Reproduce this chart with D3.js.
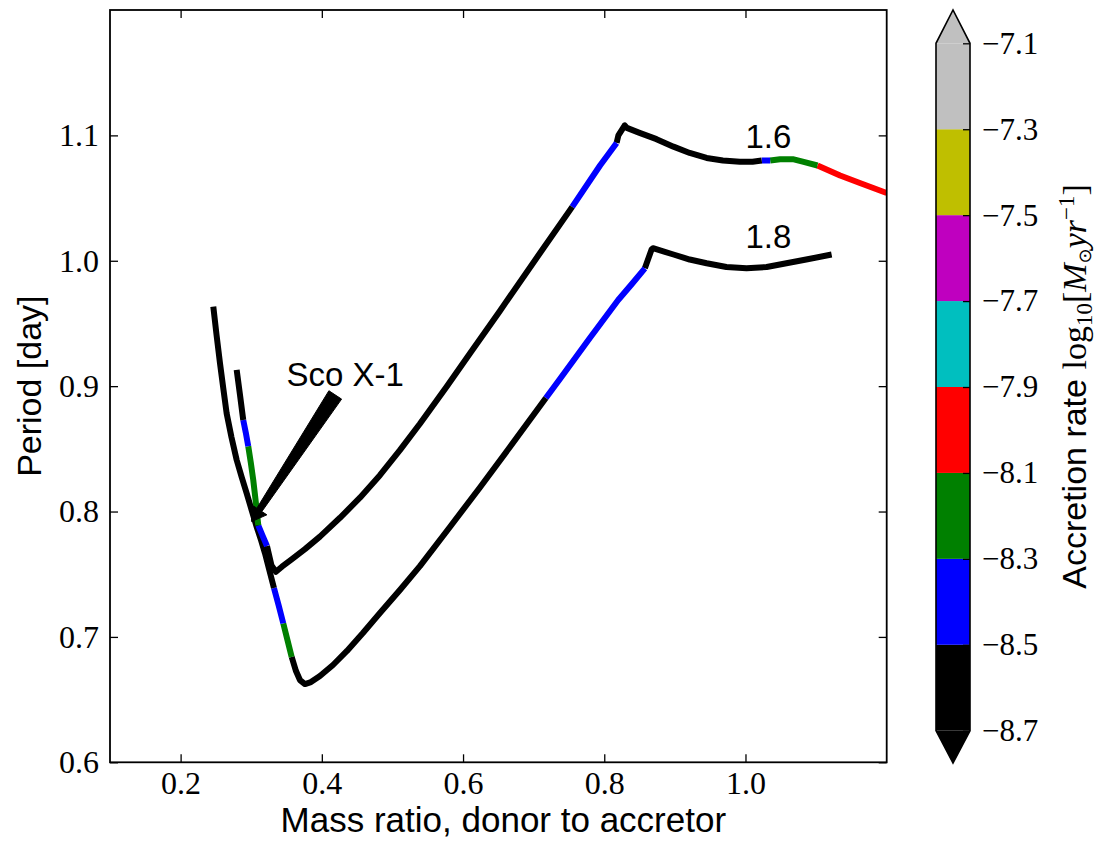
<!DOCTYPE html>
<head>
<meta charset="utf-8">
<script src="https://d3js.org/d3.v7.min.js"></script>
<style>
  body { margin: 0; background: #fff; }
  .tick text { font-family: 'Liberation Serif', serif; font-size: 32px; fill: #000; }
  .tick line { stroke: #000; stroke-width: 1.3; }
  .domain { display: none; }
  .sans { font-family: 'Liberation Sans', Arial, sans-serif; fill: #000; }
</style>
</head>
<body>
<script>
// 1.6 Msun track, from start (right) to end (upper left)
var q16 = [1.200, 1.162, 1.134, 1.102, 1.081, 1.067, 1.049, 1.035, 1.023, 1.010,
           0.992, 0.968, 0.945, 0.921, 0.898, 0.874, 0.850, 0.832, 0.829, 0.820,
           0.8175, 0.794, 0.7546, 0.7088, 0.6522, 0.6097, 0.5772, 0.5389, 0.5106, 0.4823,
           0.4540, 0.4257, 0.3973, 0.3761, 0.3577, 0.3435, 0.3350, 0.3287, 0.3223, 0.3159,
           0.3100, 0.3064, 0.3029, 0.2994, 0.2958, 0.2923, 0.2887, 0.2841, 0.2794];
var p16 = [1.054, 1.062, 1.068, 1.076, 1.079, 1.081, 1.081, 1.080, 1.080, 1.079,
           1.079, 1.080, 1.082, 1.086, 1.091, 1.097, 1.102, 1.106, 1.108, 1.100,
           1.094, 1.076, 1.043, 1.006, 0.960, 0.926, 0.900, 0.870, 0.849, 0.829,
           0.811, 0.795, 0.780, 0.770, 0.762, 0.756, 0.752, 0.757, 0.7725, 0.781,
           0.789, 0.808, 0.825, 0.839, 0.852, 0.863, 0.873, 0.893, 0.913];
var rate16 = [-8.0, -8.0, -8.0, -8.2, -8.2, -8.2, -8.2, -8.4, -8.6, -8.6,
              -8.6, -8.6, -8.6, -8.6, -8.6, -8.6, -8.6, -8.6, -8.6, -8.6,
              -8.4, -8.4, -8.6, -8.6, -8.6, -8.6, -8.6, -8.6, -8.6, -8.6,
              -8.6, -8.6, -8.6, -8.6, -8.6, -8.6, -8.6, -8.6, -8.4, -8.4,
              -8.2, -8.2, -8.2, -8.2, -8.4, -8.4, -8.6, -8.6, -8.6];

// 1.8 Msun track
var q18 = [1.122, 1.086, 1.058, 1.030, 1.0015, 0.973, 0.945, 0.921, 0.898, 0.869,
           0.867, 0.8575, 0.8391, 0.8197, 0.7796, 0.7372, 0.7173, 0.6664, 0.6239, 0.5814,
           0.5389, 0.5106, 0.4823, 0.4582, 0.4356, 0.4158, 0.3973, 0.3846, 0.3761, 0.3690,
           0.3634, 0.3573, 0.3513, 0.3454, 0.3389, 0.3322, 0.3258, 0.3195, 0.3138, 0.3077,
           0.3006, 0.2936, 0.2865, 0.2794, 0.2720, 0.2652, 0.2604, 0.2558, 0.2509, 0.2463];
var p18 = [1.005, 1.001, 0.998, 0.995, 0.994, 0.995, 0.998, 1.001, 1.005, 1.010,
           1.009, 0.994, 0.9815, 0.9687, 0.9384, 0.9057, 0.8905, 0.8515, 0.8192, 0.7877,
           0.7565, 0.7374, 0.7191, 0.7031, 0.6888, 0.6776, 0.6688, 0.664, 0.6624, 0.6656,
           0.6728, 0.684, 0.6975, 0.7108, 0.725, 0.739, 0.753, 0.7667, 0.7773, 0.7879,
           0.8012, 0.8145, 0.8275, 0.8411, 0.8594, 0.8783, 0.8985, 0.9182, 0.9408, 0.9634];
var rate18 = [-8.6, -8.6, -8.6, -8.6, -8.6, -8.6, -8.6, -8.6, -8.6, -8.6,
              -8.6, -8.4, -8.4, -8.4, -8.4, -8.4, -8.6, -8.6, -8.6, -8.6,
              -8.6, -8.6, -8.6, -8.6, -8.6, -8.6, -8.6, -8.6, -8.6, -8.6,
              -8.6, -8.2, -8.2, -8.4, -8.4, -8.6, -8.6, -8.6, -8.6, -8.6,
              -8.6, -8.6, -8.6, -8.6, -8.6, -8.6, -8.6, -8.6, -8.6, -8.6];

var xTicks = [0.2, 0.4, 0.6, 0.8, 1.0];
var yTicks = [0.6, 0.7, 0.8, 0.9, 1.0, 1.1];

var cbTicks = [-8.7, -8.5, -8.3, -8.1, -7.9, -7.7, -7.5, -7.3, -7.1];
var cbColors = ["#000000", "#0000ff", "#008000", "#ff0000", "#00bfbf", "#bf00bf", "#bfbf00", "#c0c0c0"];

var trackNames = ["1.6", "1.8"];
var trackNameQ = [1.0, 1.0];
var trackNameP = [1.09, 1.01];

// Sco X-1 annotation: text position, arrow tail, arrow tip
var scoText = "Sco X-1";
var scoTextQ = 0.35, scoTextP = 0.900;
var scoTailQ = 0.419, scoTailP = 0.893;
var scoTipQ = 0.3006, scoTipP = 0.792;

var width = 1101, height = 842;
var plot = {left: 110, top: 10, right: 886.7, bottom: 762.3};

var svg = d3.select("body").append("svg")
    .attr("width", width)
    .attr("height", height);

var x = d3.scaleLinear().domain([0.1, 1.2]).range([plot.left, plot.right]);
var y = d3.scaleLinear().domain([0.6, 1.2]).range([plot.bottom, plot.top]);

var color = d3.scaleThreshold()
    .domain(cbTicks.slice(1, -1))
    .range(cbColors);

svg.append("clipPath").attr("id", "plotclip")
  .append("rect")
    .attr("x", plot.left).attr("y", plot.top)
    .attr("width", plot.right - plot.left)
    .attr("height", plot.bottom - plot.top);

var lines = svg.append("g").attr("clip-path", "url(#plotclip)");

function drawTrack(qs, ps, rates) {
  // one path per run of equal colour, sharing the joining point
  var start = 0;
  for (var i = 1; i < qs.length; i++) {
    var endRun = (i === qs.length - 1) || color(rates[i]) !== color(rates[start]);
    if (endRun) {
      var pts = d3.range(start, i + 1).map(function(k) { return [x(qs[k]), y(ps[k])]; });
      lines.append("path")
          .attr("d", d3.line()(pts))
          .attr("fill", "none")
          .attr("stroke", color(rates[start]))
          .attr("stroke-width", 6)
          .attr("stroke-linejoin", "round");
      start = i;
    }
  }
}
drawTrack(q18, p18, rate18);
drawTrack(q16, p16, rate16);

// axes (inward ticks on all four sides)
svg.append("g")
    .attr("transform", "translate(0," + plot.bottom + ")")
    .call(d3.axisBottom(x).tickValues(xTicks).tickFormat(d3.format(".1f")).tickSize(-8).tickPadding(8.5));
svg.append("g")
    .attr("transform", "translate(0," + plot.top + ")")
    .call(d3.axisTop(x).tickValues(xTicks).tickFormat("").tickSize(-8));
svg.append("g")
    .attr("transform", "translate(" + plot.left + ",0)")
    .call(d3.axisLeft(y).tickValues(yTicks).tickFormat(d3.format(".1f")).tickSize(-8).tickPadding(11));
svg.append("g")
    .attr("transform", "translate(" + plot.right + ",0)")
    .call(d3.axisRight(y).tickValues(yTicks).tickFormat("").tickSize(-8));

svg.append("rect")
    .attr("x", plot.left).attr("y", plot.top)
    .attr("width", plot.right - plot.left)
    .attr("height", plot.bottom - plot.top)
    .attr("fill", "none")
    .attr("stroke", "#000")
    .attr("stroke-width", 1.8);

// axis titles
svg.append("text").attr("class", "sans")
    .attr("x", (plot.left + plot.right) / 2 + 5).attr("y", 832)
    .attr("text-anchor", "middle")
    .style("font-size", "35px")
    .text("Mass ratio, donor to accretor");

svg.append("text").attr("class", "sans")
    .attr("transform", "translate(41," + (plot.top + plot.bottom) / 2 + ") rotate(-90)")
    .attr("text-anchor", "middle")
    .style("font-size", "34px")
    .text("Period [day]");

// track labels
svg.selectAll(".trackname")
  .data(trackNames)
  .enter().append("text")
    .attr("class", "sans trackname")
    .attr("x", function(d, i) { return x(trackNameQ[i]); })
    .attr("y", function(d, i) { return y(trackNameP[i]); })
    .style("font-size", "33px")
    .text(function(d) { return d; });

// Sco X-1 annotation
svg.append("text").attr("class", "sans")
    .attr("x", x(scoTextQ)).attr("y", y(scoTextP))
    .style("font-size", "33px")
    .text(scoText);

(function() {
  var tail = [x(scoTailQ), y(scoTailP)];
  var tip = [x(scoTipQ), y(scoTipP)];
  var dx = tip[0] - tail[0], dy = tip[1] - tail[1];
  var len = Math.sqrt(dx * dx + dy * dy);
  var u = [dx / len, dy / len], n = [u[1], -u[0]];
  var headLen = 14, headHalf = 9, neckHalf = 3, tailHalf = 7.6;
  var base = [tip[0] - u[0] * headLen, tip[1] - u[1] * headLen];
  function off(p, w) { return [p[0] + n[0] * w, p[1] + n[1] * w]; }
  var poly = [off(tail, tailHalf), off(base, neckHalf), off(base, headHalf), tip,
              off(base, -headHalf), off(base, -neckHalf), off(tail, -tailHalf)];
  svg.append("path")
      .attr("d", "M" + poly.join("L") + "Z")
      .attr("fill", "#000")
      .attr("stroke", "#000")
      .attr("stroke-width", 1);
})();

// colorbar
var cb = {left: 936, right: 970, top: 10, bottom: 763};
var cy = d3.scaleLinear().domain([-8.7, -7.1]).range([730.7, 43.3]);
var cbg = svg.append("g");
cbg.selectAll(".cbbox")
  .data(cbColors)
  .enter().append("rect")
    .attr("x", cb.left)
    .attr("width", cb.right - cb.left)
    .attr("y", function(d, i) { return cy(cbTicks[i + 1]); })
    .attr("height", function(d, i) { return cy(cbTicks[i]) - cy(cbTicks[i + 1]); })
    .attr("fill", function(d) { return d; });
var cbMid = (cb.left + cb.right) / 2;
cbg.append("path")
    .attr("d", "M" + cb.left + "," + cy(-7.1) + "L" + cbMid + "," + cb.top + "L" + cb.right + "," + cy(-7.1) + "Z")
    .attr("fill", cbColors[cbColors.length - 1]);
cbg.append("path")
    .attr("d", "M" + cb.left + "," + cy(-8.7) + "L" + cbMid + "," + cb.bottom + "L" + cb.right + "," + cy(-8.7) + "Z")
    .attr("fill", cbColors[0]);
cbg.append("path")
    .attr("d", "M" + cb.left + "," + cy(-8.7) + "L" + cbMid + "," + cb.bottom + "L" + cb.right + "," + cy(-8.7) +
               "L" + cb.right + "," + cy(-7.1) + "L" + cbMid + "," + cb.top + "L" + cb.left + "," + cy(-7.1) + "Z")
    .attr("fill", "none")
    .attr("stroke", "#000")
    .attr("stroke-width", 1.6);

svg.append("g")
    .attr("transform", "translate(" + cb.right + ",0)")
    .call(d3.axisRight(cy).tickValues(cbTicks).tickFormat(d3.format(".1f")).tickSize(-7).tickPadding(12))
    .selectAll("text").style("font-size", "31px");

var cbLabel = svg.append("text").attr("class", "sans")
    .attr("transform", "translate(1086," + (cb.top + cb.bottom) / 2 + ") rotate(-90)")
    .attr("text-anchor", "middle")
    .style("font-size", "34px");
cbLabel.append("tspan").text("Accretion rate ");
var serif = "'Liberation Serif', serif";
cbLabel.append("tspan").style("font-family", serif).style("font-size", "34px").text("log");
cbLabel.append("tspan").style("font-family", serif).style("font-size", "23px").attr("dy", 6).text("10");
cbLabel.append("tspan").style("font-family", serif).style("font-size", "34px").attr("dy", -6).text("[");
cbLabel.append("tspan").style("font-family", serif).style("font-size", "34px").style("font-style", "italic").text("M");
cbLabel.append("tspan").style("font-family", "'DejaVu Sans', sans-serif").style("font-size", "18px").attr("dy", 5).text("\u2299");
cbLabel.append("tspan").style("font-family", serif).style("font-size", "34px").style("font-style", "italic").attr("dy", -5).text("yr");
cbLabel.append("tspan").style("font-family", serif).style("font-size", "23px").attr("dy", -12).text("\u22121");
cbLabel.append("tspan").style("font-family", serif).style("font-size", "34px").attr("dy", 12).text("]");
</script>
</body>
